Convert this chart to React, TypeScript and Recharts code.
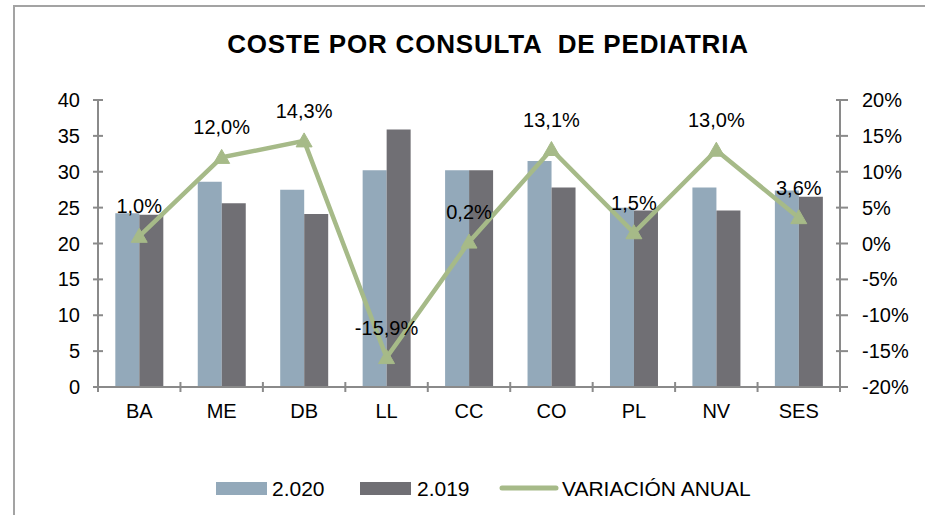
import React from 'react';
import { ComposedChart, Bar, Line, XAxis, YAxis } from 'recharts';

const categories = ['BA', 'ME', 'DB', 'LL', 'CC', 'CO', 'PL', 'NV', 'SES'];
const values2020 = [24.2, 28.6, 27.5, 30.2, 30.2, 31.5, 25.0, 27.8, 27.4];
const values2019 = [24.0, 25.6, 24.1, 35.9, 30.2, 27.8, 24.6, 24.6, 26.5];
const variacion = [1.0, 12.0, 14.3, -15.9, 0.2, 13.1, 1.5, 13.0, 3.6];
const leftTicks = [0, 5, 10, 15, 20, 25, 30, 35, 40];
const rightTicks = [-20, -15, -10, -5, 0, 5, 10, 15, 20];

const data = categories.map((c, i) => ({
  name: c,
  y2020: values2020[i],
  y2019: values2019[i],
  varAnual: variacion[i],
}));

const FONT = '"Liberation Sans", Arial, sans-serif';
const AXIS = '#8a8a8a';
const C2020 = '#93a9ba';
const C2019 = '#706f74';
const CLINE = '#a6ba88';

const fmtPct = (v: number) => v.toFixed(1).replace('.', ',') + '%';

const LeftTick = (p: any) => (
  <g>
    <line x1={p.x - 5} x2={p.x + 5} y1={p.y} y2={p.y} stroke={AXIS} strokeWidth={2} />
    <text x={p.x - 18} y={p.y + 7} textAnchor="end" fontSize={20} fontFamily={FONT} fill="#000">
      {p.payload.value}
    </text>
  </g>
);

const RightTick = (p: any) => (
  <g>
    <line x1={p.x - 4} x2={p.x + 8} y1={p.y} y2={p.y} stroke={AXIS} strokeWidth={2} />
    <text x={p.x + 22} y={p.y + 7} textAnchor="start" fontSize={20} fontFamily={FONT} fill="#000">
      {p.payload.value + '%'}
    </text>
  </g>
);

const BottomTick = (p: any) => {
  const off = p.payload.offset || 0;
  const last = p.index === categories.length - 1;
  return (
    <g>
      <line x1={p.x - off} x2={p.x - off} y1={p.y - 5} y2={p.y + 5} stroke={AXIS} strokeWidth={2} />
      {last && (
        <line x1={p.x + off} x2={p.x + off} y1={p.y - 5} y2={p.y + 5} stroke={AXIS} strokeWidth={2} />
      )}
      <text x={p.x} y={p.y + 31} textAnchor="middle" fontSize={20} fontFamily={FONT} fill="#000">
        {p.payload.value}
      </text>
    </g>
  );
};

const TriangleDot = (p: any) => {
  const { cx, cy, index } = p;
  if (cx == null || cy == null) return <g key={index} />;
  return (
    <polygon
      key={index}
      points={`${cx},${cy - 8} ${cx - 8},${cy + 6} ${cx + 8},${cy + 6}`}
      fill={CLINE}
      stroke={CLINE}
      strokeWidth={1}
    />
  );
};

const PctLabel = (p: any) => (
  <text
    key={p.index}
    x={p.x}
    y={p.y - 23}
    textAnchor="middle"
    fontSize={20}
    fontFamily={FONT}
    fill="#000"
  >
    {fmtPct(Number(p.value))}
  </text>
);

export default function App() {
  return (
    <div style={{ position: 'absolute', left: 0, top: 0, width: 925, height: 515, background: '#fff' }}>
      <ComposedChart
        width={925}
        height={515}
        data={data}
        margin={{ top: 100, right: 0, left: 0, bottom: 88 }}
        barCategoryGap="21%"
        barGap={0}
      >
        <XAxis
          dataKey="name"
          xAxisId={0}
          height={40}
          stroke={AXIS}
          strokeWidth={2}
          tickLine={false}
          tickSize={0}
          tickMargin={0}
          tick={BottomTick}
          interval={0}
        />
        <YAxis
          yAxisId="left"
          orientation="left"
          width={98}
          domain={[0, 40]}
          ticks={leftTicks}
          stroke={AXIS}
          strokeWidth={2}
          tickLine={false}
          tickSize={0}
          tickMargin={0}
          tick={LeftTick}
          interval={0}
        />
        <YAxis
          yAxisId="right"
          orientation="right"
          width={85}
          domain={[-20, 20]}
          ticks={rightTicks}
          stroke={AXIS}
          strokeWidth={2}
          tickLine={false}
          tickSize={0}
          tickMargin={0}
          tick={RightTick}
          interval={0}
        />
        <Bar dataKey="y2020" yAxisId="left" fill={C2020} isAnimationActive={false} />
        <Bar dataKey="y2019" yAxisId="left" fill={C2019} isAnimationActive={false} />
        <Line
          dataKey="varAnual"
          yAxisId="right"
          stroke={CLINE}
          strokeWidth={4.5}
          dot={TriangleDot}
          activeDot={false}
          label={PctLabel}
          isAnimationActive={false}
        />
      </ComposedChart>
      <svg
        width={925}
        height={515}
        style={{ position: 'absolute', left: 0, top: 0, pointerEvents: 'none' }}
      >
        <line x1={14} x2={925} y1={6} y2={6} stroke="#a3a3a3" strokeWidth={2} />
        <line x1={14} x2={14} y1={5} y2={515} stroke="#a3a3a3" strokeWidth={2} />
        <text
          x={488}
          y={53}
          textAnchor="middle"
          fontSize={26}
          fontWeight="bold"
          fontFamily={FONT}
          letterSpacing={0.8}
          fill="#000"
          style={{ whiteSpace: 'pre' }}
        >
          {'COSTE POR CONSULTA  DE PEDIATRIA'}
        </text>
        <rect x={216} y={482} width={51} height={13} fill={C2020} />
        <text x={272} y={496} fontSize={21} fontFamily={FONT} fill="#000">2.020</text>
        <rect x={360} y={482} width={51} height={13} fill={C2019} />
        <text x={417} y={496} fontSize={21} fontFamily={FONT} fill="#000">2.019</text>
        <line x1={502} x2={556} y1={488} y2={488} stroke={CLINE} strokeWidth={5} strokeLinecap="round" />
        <text x={562} y={496} fontSize={21} fontFamily={FONT} fill="#000">VARIACIÓN ANUAL</text>
      </svg>
    </div>
  );
}
